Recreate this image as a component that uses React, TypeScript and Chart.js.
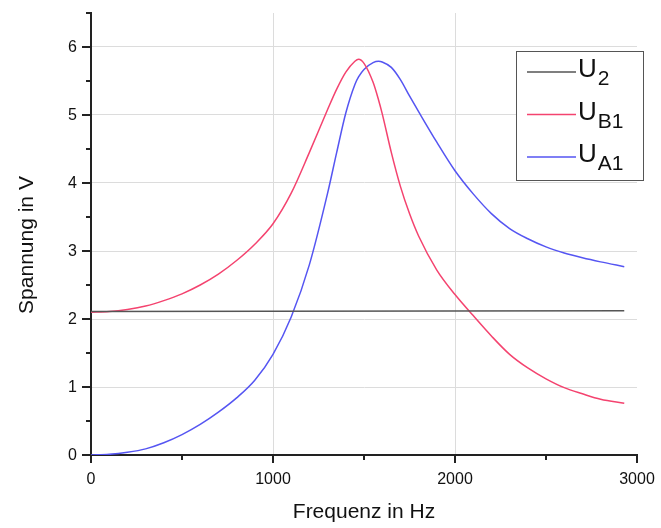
import React, { useEffect, useRef } from "react";
import { Chart, registerables } from "chart.js";

Chart.register(...registerables);

// ---- data ----
const frequencies = [
  0, 100, 200, 300, 400, 500, 600, 700, 800, 900, 1000, 1100, 1200, 1300, 1350,
  1400, 1450, 1470, 1500, 1550, 1580, 1600, 1650, 1700, 1750, 1800, 1900, 2000,
  2100, 2200, 2300, 2400, 2500, 2600, 2700, 2800, 2930,
];

const uB1 = [
  2.1, 2.11, 2.14, 2.19, 2.27, 2.37, 2.5, 2.66, 2.86, 3.1, 3.4, 3.85, 4.45,
  5.08, 5.38, 5.63, 5.79, 5.82, 5.76, 5.48, 5.22, 5.02, 4.45, 3.95, 3.55, 3.22,
  2.72, 2.36, 2.05, 1.75, 1.48, 1.28, 1.12, 0.99, 0.9, 0.82, 0.76,
];

const uA1 = [
  0.0, 0.01, 0.04, 0.09, 0.18, 0.3, 0.45, 0.63, 0.84, 1.1, 1.48, 2.03, 2.8,
  3.85, 4.45, 5.03, 5.45, 5.56, 5.67, 5.77, 5.79, 5.78, 5.7, 5.52, 5.28, 5.05,
  4.6, 4.18, 3.84, 3.55, 3.33, 3.18, 3.06, 2.97, 2.9, 2.84, 2.77,
];

const u2Frequencies = [0, 2930];
const u2 = [2.11, 2.12];

const xTickLabels = [0, 1000, 2000, 3000];
const yTickLabels = [0, 1, 2, 3, 4, 5, 6];

const seriesNames = [
  { main: "U", sub: "2" },
  { main: "U", sub: "B1" },
  { main: "U", sub: "A1" },
];

const FONT = "Arial, 'Liberation Sans', sans-serif";
const COLOR_U2 = "#555555";
const COLOR_B1 = "#f4436f";
const COLOR_A1 = "#5555f2";

const decorPlugin = {
  id: "decor",
  afterDraw(chart: any) {
    const ctx = chart.ctx;
    const xs = chart.scales.x;
    const ys = chart.scales.y;
    const area = chart.chartArea;
    ctx.save();
    ctx.strokeStyle = "#222";
    ctx.lineWidth = 2;
    // y ticks
    for (let v = 0; v <= 6.5001; v += 0.5) {
      const py = Math.round(ys.getPixelForValue(v));
      const major = Math.abs(v - Math.round(v)) < 1e-6;
      ctx.beginPath();
      ctx.moveTo(area.left - (major ? 9 : 5), py);
      ctx.lineTo(area.left, py);
      ctx.stroke();
    }
    // x ticks
    for (let v = 0; v <= 3000; v += 500) {
      const px = Math.round(xs.getPixelForValue(v));
      const major = v % 1000 === 0;
      ctx.beginPath();
      ctx.moveTo(px, area.bottom);
      ctx.lineTo(px, area.bottom + (major ? 8 : 5));
      ctx.stroke();
    }
    // tick labels
    ctx.fillStyle = "#111";
    ctx.font = `16px ${FONT}`;
    ctx.textAlign = "right";
    ctx.textBaseline = "middle";
    yTickLabels.forEach((v) => {
      ctx.fillText(String(v), 77, ys.getPixelForValue(v) + 0.5);
    });
    ctx.textAlign = "center";
    ctx.textBaseline = "alphabetic";
    xTickLabels.forEach((v) => {
      ctx.fillText(String(v), xs.getPixelForValue(v), 484);
    });
    // axis titles
    ctx.font = `21px ${FONT}`;
    ctx.textAlign = "center";
    ctx.textBaseline = "alphabetic";
    ctx.fillText("Frequenz in Hz", (area.left + area.right) / 2, 518);
    ctx.save();
    ctx.translate(33, 245);
    ctx.rotate(-Math.PI / 2);
    ctx.fillText("Spannung in V", 0, 0);
    ctx.restore();

    // legend
    const bx = 516, by = 51, bw = 127, bh = 129;
    ctx.fillStyle = "#ffffff";
    ctx.fillRect(bx, by, bw, bh);
    ctx.strokeStyle = "#555";
    ctx.lineWidth = 1;
    ctx.strokeRect(bx + 0.5, by + 0.5, bw, bh);
    const colors = [COLOR_U2, COLOR_B1, COLOR_A1];
    const lineYs = [72, 114.5, 157];
    const baselines = [77, 120, 162];
    ctx.textAlign = "left";
    ctx.textBaseline = "alphabetic";
    seriesNames.forEach((s, i) => {
      ctx.strokeStyle = colors[i];
      ctx.lineWidth = 1.3;
      ctx.beginPath();
      ctx.moveTo(527, lineYs[i]);
      ctx.lineTo(576, lineYs[i]);
      ctx.stroke();
      ctx.fillStyle = "#111";
      ctx.font = `26px ${FONT}`;
      ctx.fillText(s.main, 578, baselines[i]);
      const w = ctx.measureText(s.main).width;
      ctx.font = `21px ${FONT}`;
      ctx.fillText(s.sub, 578 + w + 1, baselines[i] + 8);
    });
    ctx.restore();
  },
};

export default function App() {
  const ref = useRef<HTMLCanvasElement | null>(null);

  useEffect(() => {
    if (!ref.current) return;
    const toPoints = (xsArr: number[], ysArr: number[]) =>
      xsArr.map((x, i) => ({ x, y: ysArr[i] }));
    const chart = new Chart(ref.current, {
      type: "line",
      data: {
        datasets: [
          {
            label: "U2",
            data: toPoints(u2Frequencies, u2),
            borderColor: COLOR_U2,
            borderWidth: 1.5,
            pointRadius: 0,
          },
          {
            label: "UB1",
            data: toPoints(frequencies, uB1),
            borderColor: COLOR_B1,
            borderWidth: 1.5,
            pointRadius: 0,
            cubicInterpolationMode: "monotone",
          },
          {
            label: "UA1",
            data: toPoints(frequencies, uA1),
            borderColor: COLOR_A1,
            borderWidth: 1.5,
            pointRadius: 0,
            cubicInterpolationMode: "monotone",
          },
        ],
      },
      options: {
        animation: false,
        responsive: false,
        events: [],
        layout: { padding: { top: 13, right: 24, left: 0, bottom: 0 } },
        plugins: {
          legend: { display: false },
          tooltip: { enabled: false },
          title: { display: false },
        },
        scales: {
          x: {
            type: "linear",
            min: 0,
            max: 3000,
            afterBuildTicks: (scale: any) => {
              scale.ticks = xTickLabels.map((v) => ({ value: v }));
            },
            afterFit: (scale: any) => {
              scale.height = 73;
            },
            ticks: { display: false },
            grid: {
              drawTicks: false,
              color: (c: any) =>
                c.tick && c.tick.value > 0 && c.tick.value < 3000
                  ? "#dcdcdc"
                  : "rgba(0,0,0,0)",
              lineWidth: 1,
            },
            border: { display: true, color: "#222", width: 2 },
          },
          y: {
            type: "linear",
            min: 0,
            max: 6.5,
            afterBuildTicks: (scale: any) => {
              scale.ticks = yTickLabels.map((v) => ({ value: v }));
            },
            afterFit: (scale: any) => {
              scale.width = 91;
            },
            ticks: { display: false },
            grid: {
              drawTicks: false,
              color: (c: any) =>
                c.tick && c.tick.value > 0 ? "#dcdcdc" : "rgba(0,0,0,0)",
              lineWidth: 1,
            },
            border: { display: true, color: "#222", width: 2 },
          },
        },
      } as any,
      plugins: [decorPlugin],
    });
    return () => chart.destroy();
  }, []);

  return (
    <div
      style={{
        position: "fixed",
        left: 0,
        top: 0,
        width: 661,
        height: 528,
        background: "#fff",
      }}
    >
      <canvas ref={ref} width={661} height={528} />
    </div>
  );
}
